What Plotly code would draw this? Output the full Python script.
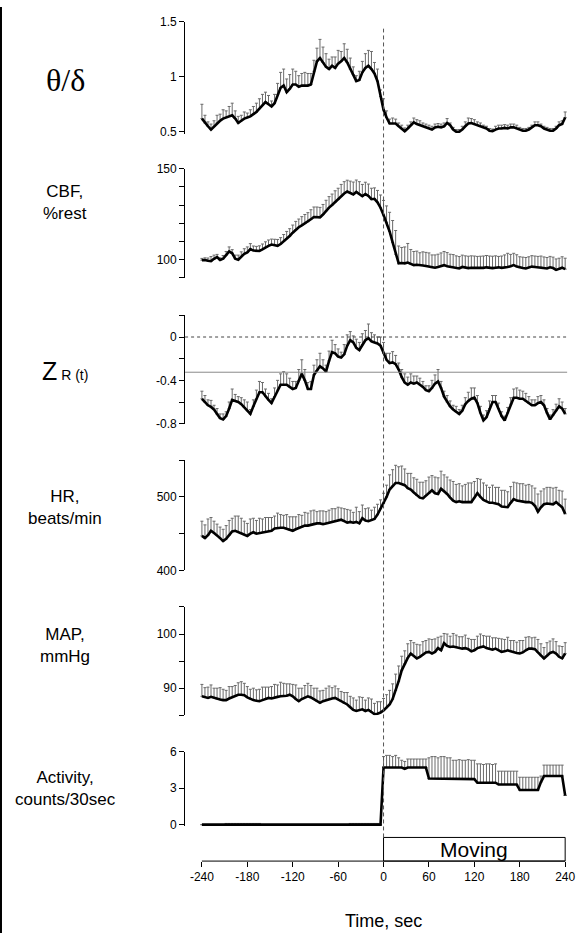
import plotly.graph_objects as go

# ---------------- data (time in seconds, 4-s bins) ----------------
TIME = list(range(-240, 241, 4))
X_TICKS = [-240, -180, -120, -60, 0, 60, 120, 180, 240]
X_TICK_LABELS = ["-240", "-180", "-120", "-60", "0", "60", "120", "180", "240"]

THETA = [0.62, 0.58, 0.55, 0.52, 0.55, 0.58, 0.60, 0.62, 0.63, 0.64,
         0.65, 0.62, 0.58, 0.60, 0.62, 0.63, 0.64, 0.66, 0.68, 0.71,
         0.74, 0.77, 0.75, 0.73, 0.76, 0.84, 0.90, 0.92, 0.86, 0.89,
         0.93, 0.93, 0.91, 0.92, 0.92, 0.92, 0.93, 1.05, 1.14, 1.17,
         1.13, 1.09, 1.07, 1.10, 1.08, 1.12, 1.14, 1.17, 1.13, 1.07,
         1.02, 0.96, 0.97, 1.04, 1.08, 1.10, 1.07, 1.03, 0.96, 0.82,
         0.70, 0.63, 0.575, 0.575, 0.575, 0.55, 0.53, 0.505, 0.53, 0.56,
         0.585, 0.57, 0.56, 0.55, 0.54, 0.53, 0.52, 0.54, 0.545, 0.54,
         0.55, 0.58, 0.56, 0.52, 0.50, 0.50, 0.52, 0.55, 0.575, 0.58,
         0.57, 0.56, 0.55, 0.54, 0.53, 0.51, 0.505, 0.52, 0.53, 0.53,
         0.535, 0.53, 0.54, 0.54, 0.53, 0.52, 0.51, 0.51, 0.52, 0.54,
         0.56, 0.56, 0.55, 0.53, 0.52, 0.51, 0.51, 0.53, 0.56, 0.57,
         0.63]
THETA_ERR = [0.13, 0.07, 0.04, 0.05, 0.05, 0.07, 0.06, 0.08, 0.06, 0.09,
             0.11, 0.07, 0.06, 0.05, 0.06, 0.04, 0.06, 0.07, 0.08, 0.09,
             0.10, 0.09, 0.08, 0.05, 0.08, 0.10, 0.14, 0.15, 0.12, 0.13,
             0.14, 0.12, 0.10, 0.11, 0.12, 0.11, 0.10, 0.10, 0.12, 0.17,
             0.14, 0.12, 0.09, 0.08, 0.10, 0.12, 0.09, 0.13, 0.12, 0.10,
             0.07, 0.05, 0.08, 0.10, 0.13, 0.14, 0.16, 0.10, 0.11, 0.06,
             0.10, 0.06, 0.04, 0.05, 0.04, 0.03, 0.03, 0.03, 0.03, 0.03,
             0.04, 0.04, 0.04, 0.03, 0.03, 0.03, 0.03, 0.03, 0.03, 0.03,
             0.03, 0.04, 0.02, 0.02, 0.02, 0.02, 0.03, 0.04, 0.05, 0.04,
             0.04, 0.03, 0.03, 0.02, 0.02, 0.02, 0.02, 0.03, 0.03, 0.03,
             0.03, 0.03, 0.03, 0.03, 0.03, 0.02, 0.02, 0.02, 0.02, 0.02,
             0.03, 0.03, 0.02, 0.02, 0.02, 0.02, 0.02, 0.02, 0.03, 0.03,
             0.05]

CBF = [99.7, 99.8, 99.4, 99.2, 100.5, 101.4, 99.8, 100.5, 102.5, 104.5,
       103.5, 100.5, 100.0, 101.8, 103.2, 104.0, 105.8, 105.0, 104.8, 104.8,
       105.6, 106.8, 107.6, 108.3, 108.0, 107.6, 108.6, 110.0, 111.5, 113.0,
       114.8, 116.5, 117.8, 118.8, 119.8, 120.8, 122.2, 123.4, 123.4, 123.2,
       124.8, 126.8, 128.6, 130.0, 131.6, 133.0, 134.8, 136.3, 137.4, 136.6,
       135.8, 137.2, 136.0, 134.8, 136.0, 135.0, 133.2, 133.4, 131.5, 128.5,
       124.5, 120.5, 115.5, 109.5, 103.0, 98.0, 98.2, 98.0, 98.4, 97.6,
       97.0, 97.2, 96.8, 96.8, 96.5, 96.2, 95.6, 95.6, 96.0, 96.5,
       97.0, 96.4, 96.0, 95.8, 95.6, 95.2, 96.0, 95.6, 95.4, 95.6,
       95.5, 95.6, 95.4, 95.5, 95.8, 95.5, 95.4, 95.6, 95.8, 95.5,
       95.6, 96.0, 96.4, 97.0, 96.2, 95.6, 95.4, 95.2, 95.8, 96.2,
       96.0, 95.8, 96.0, 95.5, 95.2, 95.8, 95.4, 94.4, 94.8, 95.6,
       94.8]
CBF_ERR = [1.0, 1.2, 1.5, 2.5, 2.0, 1.5, 1.2, 1.8, 2.0, 2.5,
           2.0, 2.0, 2.5, 2.5, 2.8, 3.0, 3.0, 2.5, 2.5, 2.8,
           3.0, 3.0, 3.2, 3.0, 3.2, 3.5, 3.5, 3.8, 4.0, 4.0,
           4.2, 4.5, 4.5, 4.8, 5.0, 5.0, 5.2, 5.5, 5.5, 5.5,
           5.5, 5.8, 6.0, 6.0, 6.2, 6.2, 6.5, 6.5, 6.2, 6.5,
           6.8, 6.5, 6.8, 6.5, 6.5, 6.5, 6.0, 6.0, 6.5, 7.0,
           8.0, 9.0, 10.5, 12.0, 13.0, 9.5, 8.5, 9.0, 10.5, 8.0,
           7.5, 7.5, 7.0, 7.5, 7.5, 7.5, 7.0, 7.0, 7.0, 7.2,
           7.5, 7.5, 7.0, 7.0, 6.5, 6.5, 6.5, 6.5, 6.5, 6.5,
           6.5, 6.2, 6.5, 6.5, 6.5, 6.5, 6.5, 6.5, 6.0, 6.5,
           7.0, 7.5, 6.5, 6.5, 6.5, 6.0, 6.0, 6.0, 5.8, 6.0,
           6.0, 6.0, 6.0, 6.0, 6.0, 6.0, 6.0, 6.0, 6.0, 6.0,
           6.0]

ZR = [-0.57, -0.60, -0.63, -0.645, -0.67, -0.71, -0.75, -0.76, -0.73, -0.66,
      -0.58, -0.59, -0.60, -0.62, -0.65, -0.68, -0.71, -0.64, -0.57, -0.51,
      -0.51, -0.55, -0.58, -0.61, -0.55, -0.49, -0.44, -0.44, -0.44, -0.46,
      -0.48, -0.47, -0.40, -0.34, -0.40, -0.48, -0.48, -0.35, -0.31, -0.27,
      -0.29, -0.32, -0.22, -0.14, -0.15, -0.18, -0.19, -0.16, -0.08, -0.03,
      -0.05, -0.10, -0.12, -0.07, -0.03, -0.01, -0.04, -0.05, -0.06, -0.08,
      -0.15, -0.21, -0.24, -0.235, -0.25, -0.30, -0.37, -0.42, -0.44, -0.42,
      -0.43, -0.42, -0.44, -0.46, -0.49, -0.50, -0.47, -0.43, -0.41, -0.47,
      -0.55, -0.60, -0.64, -0.67, -0.69, -0.71, -0.68, -0.62, -0.59, -0.57,
      -0.56, -0.61, -0.70, -0.77, -0.74, -0.66, -0.60, -0.60, -0.66, -0.73,
      -0.77, -0.70, -0.62, -0.56, -0.56, -0.57, -0.57, -0.59, -0.61, -0.63,
      -0.63, -0.61, -0.60, -0.63, -0.70, -0.76, -0.72, -0.68, -0.64, -0.66,
      -0.71]
ZR_ERR = [0.07, 0.06, 0.05, 0.06, 0.04, 0.05, 0.04, 0.05, 0.04, 0.06,
          0.10, 0.06, 0.05, 0.06, 0.07, 0.08, 0.04, 0.06, 0.08, 0.10,
          0.09, 0.07, 0.06, 0.04, 0.08, 0.09, 0.10, 0.12, 0.10, 0.08,
          0.07, 0.06, 0.10, 0.13, 0.10, 0.06, 0.07, 0.09, 0.10, 0.12,
          0.08, 0.06, 0.09, 0.11, 0.08, 0.07, 0.05, 0.09, 0.10, 0.08,
          0.06, 0.08, 0.07, 0.10, 0.09, 0.13, 0.08, 0.07, 0.06, 0.08,
          0.10, 0.06, 0.09, 0.10, 0.08, 0.06, 0.07, 0.08, 0.07, 0.08,
          0.07, 0.06, 0.06, 0.05, 0.04, 0.05, 0.07, 0.08, 0.11, 0.06,
          0.05, 0.06, 0.05, 0.04, 0.05, 0.04, 0.05, 0.06, 0.08, 0.10,
          0.09, 0.07, 0.06, 0.05, 0.06, 0.07, 0.06, 0.06, 0.05, 0.04,
          0.04, 0.05, 0.06, 0.08, 0.09, 0.08, 0.07, 0.07, 0.06, 0.05,
          0.05, 0.06, 0.06, 0.05, 0.04, 0.04, 0.05, 0.06, 0.07, 0.06,
          0.05]
ZR_THRESHOLD = -0.325

HR = [447, 444, 448, 454, 451, 448, 444, 440, 443, 448,
      453, 454, 452, 451, 449, 447, 450, 452, 450, 451,
      452, 452, 453, 454, 457, 458, 458, 458, 457, 455,
      454, 456, 458, 459, 461, 461, 462, 464, 464, 464,
      463, 464, 465, 466, 467, 468, 469, 467, 465, 466,
      465, 466, 464, 471, 468, 467, 468, 470, 476, 484,
      491, 500, 510, 515, 519, 519, 518, 516, 512, 510,
      506, 502, 499, 498, 502, 505, 509, 505, 504, 511,
      508, 504, 499, 495, 493, 494, 493, 493, 494, 493,
      499, 505, 500, 496, 494, 492, 492, 491, 490, 487,
      487, 486, 492, 497, 495, 494, 494, 493, 493, 492,
      488, 480, 486, 490, 491, 491, 490, 493, 489, 486,
      477]
HR_ERR = [20, 18, 22, 18, 16, 15, 15, 16, 18, 20,
          18, 20, 22, 20, 18, 17, 20, 19, 18, 20,
          18, 20, 19, 18, 17, 20, 18, 17, 19, 18,
          19, 17, 18, 16, 18, 17, 19, 18, 16, 17,
          18, 16, 17, 18, 17, 18, 16, 17, 18, 16,
          14, 20, 16, 18, 16, 18, 14, 16, 14, 12,
          14, 16, 20, 22, 24, 22, 24, 22, 20, 22,
          20, 22, 21, 22, 20, 22, 20, 22, 22, 24,
          22, 23, 24, 26, 24, 24, 22, 24, 25, 26,
          22, 20, 24, 23, 22, 21, 24, 22, 23, 22,
          22, 21, 22, 23, 24, 24, 24, 23, 24, 23,
          24, 24, 22, 21, 22, 22, 22, 20, 20, 22,
          20]

MAP = [88.5, 88.3, 88.2, 88.4, 88.2, 88.0, 87.9, 87.8, 87.8, 88.1,
       88.3, 88.5, 88.8, 88.8, 88.7, 88.3, 88.0, 87.8, 87.7, 87.6,
       87.8, 88.0, 88.2, 88.1, 88.3, 88.4, 88.5, 88.5, 88.6, 88.8,
       88.5, 88.0, 87.6, 88.0, 88.3, 88.5, 88.3, 88.0, 87.6, 87.3,
       87.6, 87.8, 88.0, 88.1, 88.2, 87.9, 87.6, 87.2, 87.0, 86.5,
       86.0, 85.8, 86.0, 86.1, 85.8, 86.0, 85.6, 85.2, 85.3, 85.5,
       85.9, 86.4, 87.0, 88.0, 89.6, 91.3, 93.3, 94.5, 95.6, 96.4,
       96.0, 95.5, 95.8, 96.2, 96.6, 96.7, 96.4, 96.7, 97.4, 97.0,
       98.3, 97.8, 97.6, 97.7, 97.6, 97.5, 97.3, 97.4, 97.2, 96.8,
       97.0, 97.4, 97.6, 97.7, 97.4, 97.2, 97.1, 97.3, 97.0, 96.7,
       96.8, 97.0, 96.8, 96.6, 96.5, 96.4, 96.6, 97.0, 97.3, 97.3,
       97.2, 96.6, 96.0, 95.5, 96.0, 96.5, 96.7, 96.4, 95.8, 95.5,
       96.4]
MAP_ERR = [2.2, 1.8, 2.0, 2.2, 1.8, 2.0, 2.2, 2.0, 1.8, 2.2,
           2.0, 2.0, 2.2, 2.4, 2.2, 2.0, 1.8, 2.2, 2.0, 2.2,
           2.4, 2.2, 2.0, 2.2, 2.4, 2.2, 2.6, 2.4, 2.2, 2.0,
           2.2, 2.6, 2.4, 2.0, 2.2, 2.4, 2.2, 2.0, 2.4, 2.2,
           2.0, 2.2, 2.4, 2.0, 2.2, 2.0, 1.8, 2.0, 2.2, 2.0,
           2.2, 2.0, 2.4, 2.2, 2.0, 2.2, 2.4, 2.0, 2.2, 2.0,
           2.2, 2.4, 2.6, 2.8, 3.0, 2.8, 2.6, 2.4, 2.6, 2.4,
           2.4, 2.6, 2.2, 2.4, 2.2, 2.4, 2.6, 2.4, 2.0, 2.6,
           1.8, 2.2, 2.0, 2.4, 2.2, 2.0, 2.2, 2.4, 2.0, 2.2,
           2.0, 2.2, 2.4, 2.0, 2.2, 2.4, 2.2, 2.0, 2.2, 2.4,
           2.2, 2.4, 2.0, 2.2, 2.0, 2.4, 2.2, 2.4, 2.2, 2.0,
           2.2, 2.4, 2.2, 2.0, 2.4, 2.2, 2.4, 2.2, 2.0, 2.2,
           2.0]

ACT = [0, 0, 0, 0, 0, 0, 0, 0, 0, 0,
       0, 0, 0, 0, 0, 0, 0, 0, 0, 0,
       0, 0, 0, 0, 0, 0, 0, 0, 0, 0,
       0, 0, 0, 0, 0, 0, 0, 0, 0, 0,
       0, 0, 0, 0, 0, 0, 0, 0, 0, 0,
       0, 0, 0, 0, 0, 0, 0, 0, 0, 0,
       4.7, 4.7, 4.7, 4.7, 4.7, 4.7, 4.7, 4.6, 4.7, 4.7,
       4.7, 4.7, 4.7, 4.7, 4.7, 3.8, 3.8, 3.8, 3.8, 3.8,
       3.8, 3.8, 3.8, 3.75, 3.75, 3.75, 3.75, 3.75, 3.75, 3.75,
       3.75, 3.45, 3.45, 3.45, 3.45, 3.45, 3.45, 3.45, 3.3, 3.3,
       3.3, 3.3, 3.3, 3.3, 3.3, 2.85, 2.85, 2.85, 2.85, 2.85,
       2.85, 2.85, 3.5, 4.0, 4.0, 4.0, 4.0, 4.0, 4.0, 4.0,
       2.4]
ACT_ERR = [0, 0, 0, 0, 0, 0, 0, 0, 0.1, 0.1,
           0.1, 0.1, 0.1, 0.1, 0.1, 0.1, 0.1, 0.1, 0.1, 0.1,
           0, 0, 0, 0, 0, 0, 0, 0, 0, 0,
           0, 0, 0, 0, 0, 0, 0, 0, 0, 0,
           0, 0, 0, 0, 0, 0, 0, 0, 0, 0.1,
           0.1, 0.1, 0.1, 0.1, 0.1, 0.1, 0.1, 0.1, 0.1, 0,
           0.9, 1.0, 1.0, 0.9, 1.0, 0.8, 0.6, 0.6, 0.7, 0.7,
           0.7, 0.7, 0.7, 0.7, 0.7, 1.7, 1.8, 1.8, 1.7, 1.8,
           1.8, 1.7, 1.7, 1.55, 1.55, 1.6, 1.55, 1.55, 1.6, 1.55,
           1.55, 1.55, 1.55, 1.5, 1.55, 1.55, 1.5, 1.55, 1.1, 1.1,
           1.1, 1.1, 1.1, 1.1, 1.1, 1.05, 1.05, 1.05, 1.05, 1.05,
           1.05, 1.05, 0.5, 0.9, 0.9, 0.9, 0.9, 0.9, 0.9, 0.9,
           0.0]

# ---------------- layout helpers ----------------
W, H = 588, 940
def py(p):
    return 1 - p / H
def px(p):
    return p / W

SANS = "Liberation Sans, Arial, sans-serif"
SERIF = "Liberation Serif, Times New Roman, serif"

panels = [
    (THETA, THETA_ERR, [0.48, 1.5], (15, 128.9), [0.5, 1, 1.5], ["0.5", "1", "1.5"]),
    (CBF, CBF_ERR, [90, 150], (164, 275), [90, 100, 110, 120, 130, 140, 150],
     ["", "100", "", "", "", "", "150"]),
    (ZR, ZR_ERR, [-0.8, 0.2], (313, 423), [-0.8, -0.6, -0.4, -0.2, 0, 0.2],
     ["-0.8", "", "-0.4", "", "0", ""]),
    (HR, HR_ERR, [400, 550], (460, 572), [400, 450, 500, 550], ["400", "", "500", ""]),
    (MAP, MAP_ERR, [85, 105], (609, 719), [85, 90, 95, 100, 105], ["", "90", "", "100", ""]),
    (ACT, ACT_ERR, [-0.12, 6], (756, 831.5), [0, 3, 6], ["0", "3", "6"]),
]

fig = go.Figure()
layout_axes = {}
for i, (vals, errs, yr, dom, tv, tt) in enumerate(panels):
    yname = "y" if i == 0 else f"y{i+1}"
    lname = "yaxis" if i == 0 else f"yaxis{i+1}"
    fig.add_trace(go.Scatter(
        x=TIME, y=vals, mode="lines",
        line=dict(color="black", width=2.6),
        error_y=dict(type="data", symmetric=False, array=errs,
                     arrayminus=[0] * len(errs), color="#6a6a6a",
                     thickness=1, width=1.5),
        xaxis="x", yaxis=yname, showlegend=False, hoverinfo="skip"))
    layout_axes[lname] = dict(
        domain=[py(dom[1]), py(dom[0])], range=yr, anchor="x",
        showline=True, linecolor="black", linewidth=1,
        ticks="outside", ticklen=5, tickwidth=1, tickcolor="black",
        tickmode="array", tickvals=tv, ticktext=tt,
        tickfont=dict(family=SANS, size=12, color="black"),
        showgrid=False, zeroline=False, fixedrange=True)

scale = (571 - 204) / 480.0
x_lo = -240 - (204 - 187) / scale
x_hi = 240 + (575 - 571) / scale

fig.update_layout(
    width=W, height=H,
    margin=dict(l=0, r=0, t=0, b=0),
    paper_bgcolor="white", plot_bgcolor="white",
    xaxis=dict(domain=[px(187), px(575)], range=[x_lo, x_hi],
               anchor="free", position=py(867),
               showline=False, ticks="outside", ticklen=5, tickwidth=1,
               tickcolor="black", tickmode="array", tickvals=X_TICKS,
               ticktext=X_TICK_LABELS,
               tickfont=dict(family=SANS, size=12, color="black"),
               showgrid=False, zeroline=False, fixedrange=True),
    **layout_axes,
)

shapes = [
    dict(type="line", xref="x", yref="paper", x0=-240, x1=240,
         y0=py(867), y1=py(867), line=dict(color="black", width=1)),
    dict(type="rect", xref="x", yref="paper", x0=0, x1=240,
         y0=py(867), y1=py(843), line=dict(color="black", width=1)),
    dict(type="line", xref="x", yref="paper", x0=0, x1=0,
         y0=py(843), y1=py(22), line=dict(color="#555555", width=1, dash="4px,3px")),
    dict(type="line", xref="paper", yref="y3", x0=px(187), x1=px(573),
         y0=0, y1=0, line=dict(color="#444444", width=1, dash="dot")),
    dict(type="line", xref="paper", yref="y3", x0=px(187), x1=px(573),
         y0=ZR_THRESHOLD, y1=ZR_THRESHOLD, line=dict(color="#8a8a8a", width=1)),
    dict(type="line", xref="paper", yref="paper", x0=px(1), x1=px(1),
         y0=0, y1=1, line=dict(color="black", width=2)),
]
fig.update_layout(shapes=shapes)

LABEL_X = px(66)
annotations = [
    dict(text="θ/δ", x=LABEL_X, y=py(74), font=dict(family=SERIF, size=32, color="black")),
    dict(text="CBF,<br>%rest", x=LABEL_X, y=py(198), font=dict(family=SANS, size=17, color="black")),
    dict(text="Z<span style='font-size:14px'> R (t)</span>", x=LABEL_X, y=py(370),
         font=dict(family=SANS, size=25, color="black")),
    dict(text="HR,<br>beats/min", x=LABEL_X, y=py(508), font=dict(family=SANS, size=17, color="black")),
    dict(text="MAP,<br>mmHg", x=LABEL_X, y=py(648), font=dict(family=SANS, size=17, color="black")),
    dict(text="Activity,<br>counts/30sec", x=LABEL_X, y=py(793), font=dict(family=SANS, size=17, color="black")),
    dict(text="Moving", x=px(479), y=py(855), font=dict(family=SANS, size=21, color="black")),
    dict(text="Time, sec", x=px(387), y=py(928), font=dict(family=SANS, size=18, color="black")),
]
for a in annotations:
    a.update(xref="paper", yref="paper", showarrow=False, xanchor="center", yanchor="middle")
fig.update_layout(annotations=annotations)

fig.write_html("out.html", config={"displayModeBar": False},
               post_script="document.body.style.margin='0px';")
